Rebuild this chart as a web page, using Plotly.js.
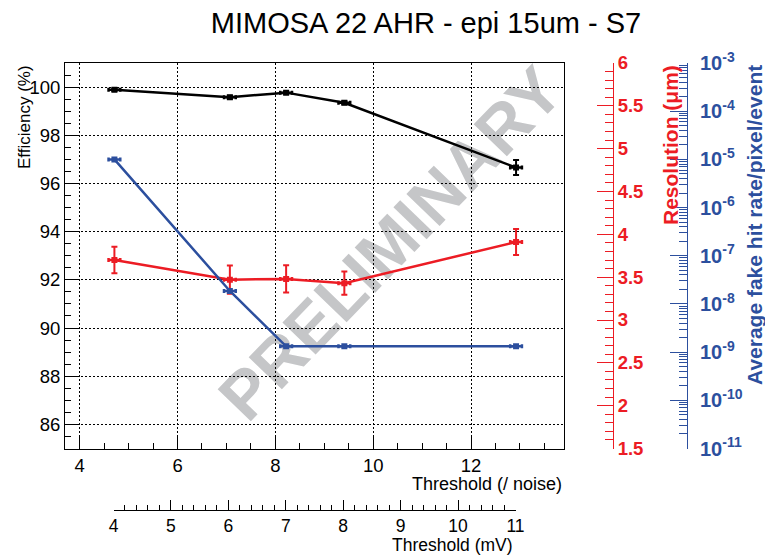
<!DOCTYPE html>
<html>
<head>
<meta charset="utf-8">
<script src="https://cdn.plot.ly/plotly-3.0.1.min.js"></script>
<style>html,body{margin:0;padding:0;background:#fff;}#chart{width:765px;height:555px;}</style>
</head>
<body>
<div id="chart"></div>
<script>
// ---- data ----
const thresholdNoise = [4.71, 7.07, 8.22, 9.41, 12.92];
const thresholdErr   = [0.12, 0.12, 0.12, 0.12, 0.12];
const efficiency     = [99.89, 99.58, 99.77, 99.35, 96.66];
const efficiencyErr  = [0.05, 0.06, 0.05, 0.06, 0.31];
const resolution     = [3.70, 3.47, 3.48, 3.43, 3.91];
const resolutionErr  = [0.155, 0.165, 0.16, 0.136, 0.152];
const fakeHitRate    = [1.0e-5, 1.86e-8, 1.32e-9, 1.32e-9, 1.32e-9];
const thresholdMV    = [4, 5, 6, 7, 8, 9, 10, 11];
const fakeTickVals   = [1e-11, 1e-10, 1e-9, 1e-8, 1e-7, 1e-6, 1e-5, 1e-4, 1e-3];
const fakeTickText   = ['10<sup>-11</sup>','10<sup>-10</sup>','10<sup>-9</sup>','10<sup>-8</sup>','10<sup>-7</sup>','10<sup>-6</sup>','10<sup>-5</sup>','10<sup>-4</sup>','10<sup>-3</sup>'];

const FONT = 'Liberation Sans, Arial, Helvetica, sans-serif';
const RED = '#ec1c24';
const BLUE = '#2c4f9e';
const GRAY_WM = '#c5c6c8';

// pixel helpers for layout placement (paper: x 65..745, y 63..550)
const L = 65, R = 20, T = 63, B = 5, W = 765, H = 555;
const PW = W - L - R, PH = H - T - B;
const px = v => (v - L) / PW;
const py = v => (H - B - v) / PH;

// log minor tick positions for the fake-rate axis
const fakeMinor = [];
for (let e = -11; e < -3; e++) for (let m = 2; m <= 9; m++) fakeMinor.push(m * Math.pow(10, e));

const traces = [
  {
    x: thresholdNoise, y: efficiency, xaxis: 'x', yaxis: 'y',
    mode: 'lines+markers', line: {color: '#000', width: 2.5},
    marker: {symbol: 'square', size: 6, color: '#000'},
    error_y: {type: 'data', array: efficiencyErr, color: '#000', thickness: 2, width: 3},
    error_x: {type: 'data', array: thresholdErr, color: '#000', thickness: 2.5, width: 2},
    hoverinfo: 'x+y', showlegend: false
  },
  {
    x: thresholdNoise, y: resolution, xaxis: 'x', yaxis: 'y2',
    mode: 'lines+markers', line: {color: RED, width: 2.5},
    marker: {symbol: 'square', size: 6, color: RED},
    error_y: {type: 'data', array: resolutionErr, color: RED, thickness: 2, width: 3},
    error_x: {type: 'data', array: thresholdErr, color: RED, thickness: 2.5, width: 2},
    hoverinfo: 'x+y', showlegend: false
  },
  {
    x: thresholdNoise, y: fakeHitRate, xaxis: 'x', yaxis: 'y3',
    mode: 'lines+markers', line: {color: BLUE, width: 2.5},
    marker: {symbol: 'square', size: 6, color: BLUE},
    error_x: {type: 'data', array: thresholdErr, color: BLUE, thickness: 2.5, width: 2},
    hoverinfo: 'x+y', showlegend: false
  },
  {
    x: [thresholdMV[0], thresholdMV[thresholdMV.length - 1]], y: [0, 0],
    xaxis: 'x2', yaxis: 'y4', mode: 'markers', marker: {opacity: 0},
    hoverinfo: 'skip', showlegend: false
  }
];

const tickFont = {family: FONT, size: 18.5, color: '#000'};

const layout = {
  width: W, height: H,
  margin: {l: L, r: R, t: T, b: B, pad: 0},
  paper_bgcolor: '#fff', plot_bgcolor: 'rgba(0,0,0,0)',
  font: {family: FONT},
  title: {text: 'MIMOSA 22 AHR - epi 15um - S7', font: {family: FONT, size: 29, color: '#000'},
          x: px(426), xref: 'paper', xanchor: 'center', y: 1 - 23 / H, yref: 'container', yanchor: 'middle'},
  xaxis: {
    domain: [0, px(564)], range: [3.7, 13.9], tick0: 4, dtick: 2,
    ticks: 'inside', ticklen: 12, tickwidth: 1, tickcolor: '#000',
    minor: {dtick: 0.5, ticks: 'inside', ticklen: 6, tickcolor: '#000', showgrid: false},
    showline: true, linecolor: '#000', linewidth: 1, mirror: true,
    showgrid: true, gridcolor: '#000', gridwidth: 1, griddash: '1.5px,2.5px',
    zeroline: false, tickfont: tickFont, anchor: 'y'
  },
  yaxis: {
    domain: [py(448.5), 1], range: [85, 101], tick0: 86, dtick: 2,
    ticks: 'inside', ticklen: 12, tickwidth: 1, tickcolor: '#000',
    minor: {dtick: 0.5, ticks: 'inside', ticklen: 6, tickcolor: '#000', showgrid: false},
    showline: true, linecolor: '#000', linewidth: 1, mirror: true,
    showgrid: true, gridcolor: '#000', gridwidth: 1, griddash: '1.5px,2.5px',
    zeroline: false, tickfont: tickFont, anchor: 'x'
  },
  yaxis2: {
    overlaying: 'y', side: 'right', anchor: 'free', position: px(613),
    range: [1.5, 6], tick0: 1.5, dtick: 0.5,
    ticks: 'inside', ticklen: 16, tickwidth: 1, tickcolor: RED,
    minor: {dtick: 0.1, ticks: 'inside', ticklen: 8, tickcolor: RED, showgrid: false},
    showline: true, linecolor: RED, linewidth: 1,
    showgrid: false, zeroline: false,
    tickfont: {family: FONT, size: 18.5, color: RED, weight: 'bold'}
  },
  yaxis3: {
    overlaying: 'y', side: 'right', anchor: 'free', position: px(687),
    type: 'log', range: [-11, -3],
    tickmode: 'array', tickvals: fakeTickVals, ticktext: fakeTickText,
    ticks: 'inside', ticklen: 17, tickwidth: 1, tickcolor: BLUE,
    minor: {tickmode: 'array', tickvals: fakeMinor, ticks: 'inside', ticklen: 8, tickcolor: BLUE, showgrid: false},
    showline: true, linecolor: BLUE, linewidth: 1, ticklabelstandoff: 8,
    showgrid: false, zeroline: false,
    tickfont: {family: FONT, size: 20, color: BLUE, weight: 'bold'}
  },
  xaxis2: {
    domain: [px(113.5), px(515.5)], range: [4, 11], tick0: 4, dtick: 1,
    anchor: 'free', position: py(510),
    ticks: 'inside', ticklen: 10, tickwidth: 1, tickcolor: '#000',
    minor: {dtick: 0.2, ticks: 'inside', ticklen: 5, tickcolor: '#000', showgrid: false},
    showline: true, linecolor: '#000', linewidth: 1,
    showgrid: false, zeroline: false, tickfont: {family: FONT, size: 17.5, color: '#000'}
  },
  yaxis4: {domain: [0, 0.04], anchor: 'x2', visible: false, range: [-1, 1]},
  shapes: [{
    type: 'rect', xref: 'paper', yref: 'paper', layer: 'between',
    x0: px(381), x1: px(391), y0: py(244), y1: py(234),
    line: {width: 0}, fillcolor: 'rgba(0,0,0,0)',
    label: {text: 'PRELIMINARY', textangle: -46, textposition: 'middle center',
            font: {family: FONT, size: 67, color: GRAY_WM, weight: 'bold'}}
  }],
  annotations: [
    {text: 'Threshold (/ noise)', xref: 'paper', yref: 'paper', x: px(564), y: py(484),
     xanchor: 'right', yanchor: 'middle', showarrow: false, font: {family: FONT, size: 18, color: '#000'}},
    {text: 'Threshold (mV)', xref: 'paper', yref: 'paper', x: px(515), y: py(545),
     xanchor: 'right', yanchor: 'middle', showarrow: false, font: {family: FONT, size: 17.5, color: '#000'}},
    {text: 'Efficiency (%)', xref: 'paper', yref: 'paper', x: px(24), y: py(63),
     xanchor: 'center', yanchor: 'top', textangle: -90, showarrow: false, font: {family: FONT, size: 17, color: '#000'}},
    {text: 'Resolution (\u03bcm)', xref: 'paper', yref: 'paper', x: px(670), y: py(63),
     xanchor: 'center', yanchor: 'top', textangle: -90, showarrow: false, font: {family: FONT, size: 21, color: RED, weight: 'bold'}},
    {text: 'Average fake hit rate/pixel/event', xref: 'paper', yref: 'paper', x: px(754), y: py(63),
     xanchor: 'center', yanchor: 'top', textangle: -90, showarrow: false, font: {family: FONT, size: 21, color: BLUE, weight: 'bold'}}
  ]
};

Plotly.newPlot('chart', traces, layout, {displayModeBar: false, staticPlot: true});
</script>
</body>
</html>
